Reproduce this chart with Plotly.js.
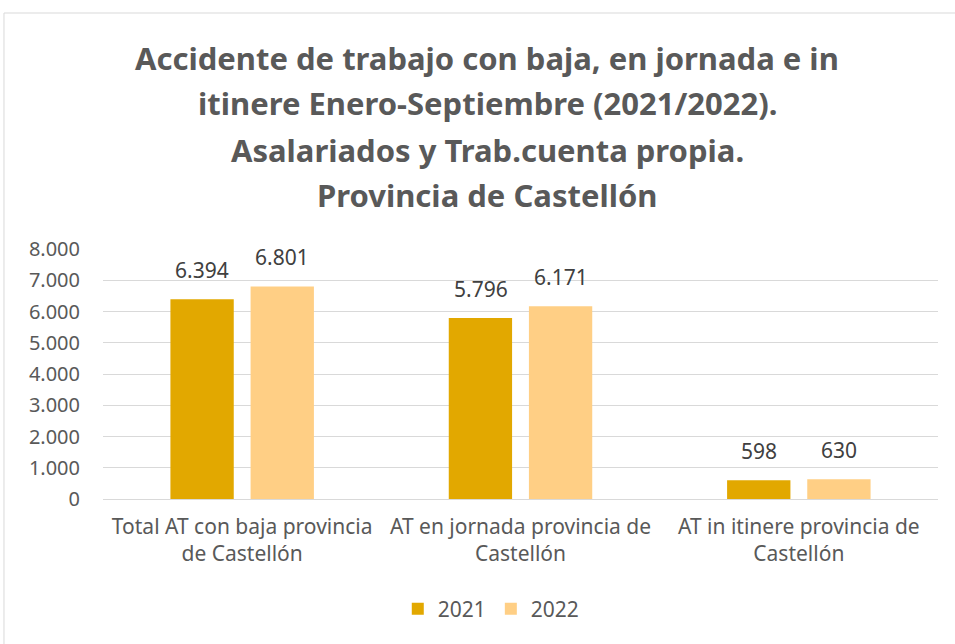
<!DOCTYPE html>
<html>
<head>
<meta charset="utf-8">
<script src="https://cdn.plot.ly/plotly-3.0.1.min.js"></script>
<style>
  html, body { margin: 0; padding: 0; background: #fff; }
  #chart { width: 955px; height: 644px; }
</style>
</head>
<body>
<div id="chart"></div>
<script>
// values
var categories = [
  'Total AT con baja provincia<br>de Castellón',
  'AT en jornada provincia de<br>Castellón',
  'AT in itinere provincia de<br>Castellón'
];
var values2021 = [6394, 5796, 598];
var values2022 = [6801, 6171, 630];
var titleLines = [
  'Accidente de trabajo con baja, en jornada e in',
  'itinere Enero-Septiembre (2021/2022).',
  'Asalariados y Trab.cuenta propia.',
  'Provincia de Castellón'
];
var tickValues = [0, 1000, 2000, 3000, 4000, 5000, 6000, 7000, 8000];

var fontFamily = 'Noto Sans, sans-serif';
var gray = '#595959';

function barTrace(name, values, color) {
  return {
    type: 'bar',
    name: name,
    x: categories,
    y: values,
    marker: { color: color },
    hoverinfo: 'skip'
  };
}

var data = [
  barTrace('2021', values2021, '#E2A800'),
  barTrace('2022', values2022, '#FFCF85')
];

// value labels above each bar
function fmt(v) {
  return v.toString().replace(/\B(?=(\d{3})+(?!\d))/g, '.');
}
var annotations = [];
[values2021, values2022].forEach(function (series, s) {
  series.forEach(function (v, i) {
    annotations.push({
      text: fmt(v),
      x: categories[i], y: v,
      xref: 'x', yref: 'y',
      xshift: s === 0 ? -40 : 40,
      yshift: 13,
      yanchor: 'bottom',
      showarrow: false,
      font: { family: fontFamily, size: 21, color: '#404040' }
    });
  });
});

var titleY = [1.764, 1.584, 1.396, 1.216];
titleLines.forEach(function (line, i) {
  annotations.push({
    text: '<b>' + line + '</b>',
    xref: 'paper', yref: 'paper',
    x: 0.46, y: titleY[i],
    xanchor: 'center', yanchor: 'middle',
    showarrow: false,
    font: { family: fontFamily, size: 31, color: gray }
  });
});

var layout = {
  width: 955,
  height: 644,
  margin: { l: 103, r: 17, t: 249, b: 145 },
  paper_bgcolor: '#ffffff',
  plot_bgcolor: '#ffffff',
  separators: ',.',
  font: { family: fontFamily, color: gray },
  showlegend: true,
  legend: {
    orientation: 'h',
    x: 0.465, xanchor: 'center',
    y: -0.44, yanchor: 'middle',
    font: { family: fontFamily, size: 21, color: gray }
  },
  bargap: 0.424,
  bargroupgap: 0.21,
  barmode: 'group',
  xaxis: {
    type: 'category',
    showgrid: false,
    showline: false,
    zeroline: false,
    ticks: '',
    ticklabelstandoff: 13,
    tickfont: { family: fontFamily, size: 21, color: gray }
  },
  yaxis: {
    range: [0, 8000],
    tickvals: tickValues,
    tickformat: ',',
    showgrid: true,
    gridcolor: '#D9D9D9',
    gridwidth: 1,
    zeroline: true,
    zerolinecolor: '#D9D9D9',
    zerolinewidth: 1,
    showline: false,
    ticks: '',
    ticklabelstandoff: 22,
    tickfont: { family: fontFamily, size: 20, color: gray }
  },
  annotations: annotations,
  shapes: [{
    type: 'rect',
    xref: 'paper', yref: 'paper',
    x0: -0.1186, x1: 1.2,
    y0: -0.7, y1: 1.944,
    line: { color: '#D9D9D9', width: 1 },
    fillcolor: 'rgba(0,0,0,0)'
  }]
};

Plotly.newPlot('chart', data, layout, { staticPlot: true });
</script>
</body>
</html>
